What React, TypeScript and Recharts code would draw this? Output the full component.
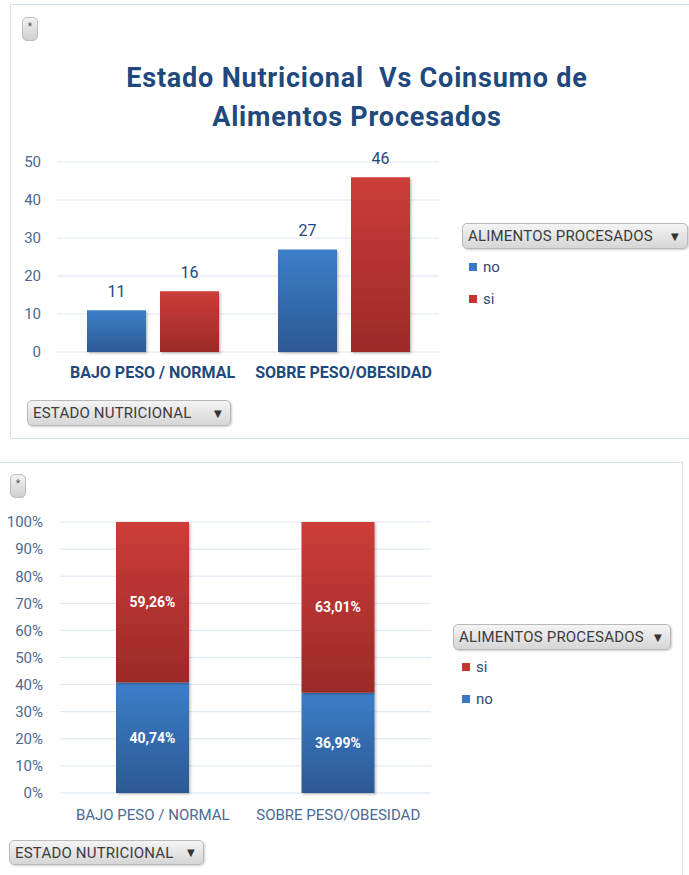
import { BarChart, Bar, XAxis, YAxis, CartesianGrid, LabelList } from "recharts";

const categories = ["BAJO PESO / NORMAL", "SOBRE PESO/OBESIDAD"];
const noCounts = [11, 27];
const siCounts = [16, 46];
const noPercent = [40.74, 36.99];
const siPercent = [59.26, 63.01];
const countTicks = [0, 10, 20, 30, 40, 50];
const percentTicks = [0, 10, 20, 30, 40, 50, 60, 70, 80, 90, 100];

const countData = categories.map((name, i) => ({ name, no: noCounts[i], si: siCounts[i] }));
const percentData = categories.map((name, i) => ({ name, no: noPercent[i], si: siPercent[i] }));

const FONT = "Roboto, 'DejaVu Sans', sans-serif";
const DARK_BLUE = "#1f497d";
const TICK_BLUE = "#4a6a93";
const GRID = "#dbe5f1";
const BLUE = "#3a78c3";
const RED = "#c0392f";

function Gradients() {
  return (
    <defs>
      <linearGradient id="gBlue" x1="0" y1="0" x2="0" y2="1">
        <stop offset="0%" stopColor="#3c7ec9" />
        <stop offset="100%" stopColor="#2c5994" />
      </linearGradient>
      <linearGradient id="gRed" x1="0" y1="0" x2="0" y2="1">
        <stop offset="0%" stopColor="#cd3c38" />
        <stop offset="100%" stopColor="#9b2a28" />
      </linearGradient>
      <filter id="barShadow" x="-10%" y="-10%" width="130%" height="130%">
        <feDropShadow dx="1.5" dy="1.5" stdDeviation="1.2" floodColor="#000" floodOpacity="0.25" />
      </filter>
    </defs>
  );
}

function PillButton({ left, top, width, height, label }: { left: number; top: number; width: number; height: number; label: string }) {
  return (
    <div
      style={{
        position: "absolute",
        left,
        top,
        width,
        height,
        boxSizing: "border-box",
        border: "1px solid #b9b9b9",
        borderRadius: 5,
        background: "linear-gradient(#f4f4f4, #d6d6d6)",
        boxShadow: "1px 1px 2px rgba(0,0,0,0.2)",
        display: "flex",
        alignItems: "center",
        justifyContent: "space-between",
        padding: "0 8px 0 5px",
        fontSize: 15,
        letterSpacing: 0.2,
        color: "#3c3c3c",
      }}
    >
      <span>{label}</span>
      <span style={{ fontSize: 10, color: "#333" }}>▼</span>
    </div>
  );
}

function StarButton({ left, top }: { left: number; top: number }) {
  return (
    <div
      style={{
        position: "absolute",
        left,
        top,
        width: 16,
        height: 24,
        boxSizing: "border-box",
        border: "1px solid #bdbdbd",
        borderRadius: 5,
        background: "linear-gradient(#f2f2f2, #cfcfcf)",
        fontSize: 10,
        color: "#555",
        textAlign: "center",
        lineHeight: "18px",
      }}
    >
      *
    </div>
  );
}

function LegendItems({ left, top, items }: { left: number; top: number; items: { label: string; color: string }[] }) {
  return (
    <div style={{ position: "absolute", left, top }}>
      {items.map((it) => (
        <div key={it.label} style={{ display: "flex", alignItems: "center", height: 32, fontSize: 15, color: "#2b4a78" }}>
          <span style={{ width: 8, height: 8, background: it.color, marginRight: 6 }} />
          {it.label}
        </div>
      ))}
    </div>
  );
}

const pctLabel = (v: any) => `${Number(v).toFixed(2).replace(".", ",")}%`;

export default function App() {
  return (
    <div style={{ position: "absolute", left: 0, top: 0, width: 689, height: 875, background: "#fff", overflow: "hidden", fontFamily: FONT }}>
      {/* top panel */}
      <div style={{ position: "absolute", left: 10, top: 4, width: 700, height: 433, border: "1px solid #d5e0ee" }} />
      <StarButton left={22} top={17} />
      <div
        style={{
          position: "absolute",
          left: 57,
          top: 59,
          width: 600,
          textAlign: "center",
          fontSize: 27,
          letterSpacing: 0.8,
          fontWeight: 700,
          lineHeight: "39px",
          color: DARK_BLUE,
        }}
      >
        Estado Nutricional&nbsp; Vs Coinsumo de
        <br />
        Alimentos Procesados
      </div>
      <div style={{ position: "absolute", left: 0, top: 0 }}>
        <BarChart width={689} height={440} data={countData} margin={{ top: 162, right: 250, left: 17, bottom: 58 }} barGap={14}>
          <Gradients />
          <CartesianGrid vertical={false} stroke={GRID} />
          <XAxis
            dataKey="name"
            axisLine={false}
            tickLine={false}
            height={30}
            tickMargin={9}
            tick={{ fill: DARK_BLUE, fontSize: 16, fontWeight: 700 }}
            interval={0}
          />
          <YAxis
            width={40}
            domain={[0, 50]}
            ticks={countTicks}
            axisLine={false}
            tickLine={false}
            tickMargin={10}
            tick={{ fill: TICK_BLUE, fontSize: 15 }}
          />
          <Bar dataKey="no" fill="url(#gBlue)" filter="url(#barShadow)" barSize={59} isAnimationActive={false}>
            <LabelList dataKey="no" position="top" offset={13} fill={DARK_BLUE} fontSize={16} />
          </Bar>
          <Bar dataKey="si" fill="url(#gRed)" filter="url(#barShadow)" barSize={59} isAnimationActive={false}>
            <LabelList dataKey="si" position="top" offset={13} fill={DARK_BLUE} fontSize={16} />
          </Bar>
        </BarChart>
      </div>
      <PillButton left={462} top={223} width={226} height={26} label="ALIMENTOS PROCESADOS" />
      <LegendItems
        left={469}
        top={251}
        items={[
          { label: "no", color: BLUE },
          { label: "si", color: RED },
        ]}
      />
      <PillButton left={27} top={400} width={204} height={26} label="ESTADO NUTRICIONAL" />

      {/* bottom panel */}
      <div style={{ position: "absolute", left: -1, top: 462, width: 682, height: 430, border: "1px solid #d5e0ee" }} />
      <StarButton left={10} top={474} />
      <div style={{ position: "absolute", left: 0, top: 462 }}>
        <BarChart width={689} height={413} data={percentData} margin={{ top: 60, right: 258, left: 20, bottom: 52 }}>
          <Gradients />
          <CartesianGrid vertical={false} stroke={GRID} />
          <XAxis
            dataKey="name"
            axisLine={false}
            tickLine={false}
            height={30}
            tickMargin={10}
            tick={{ fill: TICK_BLUE, fontSize: 15 }}
            interval={0}
          />
          <YAxis
            width={40}
            domain={[0, 100]}
            ticks={percentTicks}
            tickFormatter={(v) => `${v}%`}
            axisLine={false}
            tickLine={false}
            tickMargin={11}
            tick={{ fill: TICK_BLUE, fontSize: 15 }}
          />
          <Bar dataKey="no" stackId="a" fill="url(#gBlue)" filter="url(#barShadow)" barSize={73} isAnimationActive={false}>
            <LabelList dataKey="no" position="center" fill="#fff" fontSize={14} fontWeight={700} formatter={pctLabel} />
          </Bar>
          <Bar dataKey="si" stackId="a" fill="url(#gRed)" filter="url(#barShadow)" barSize={73} isAnimationActive={false}>
            <LabelList dataKey="si" position="center" fill="#fff" fontSize={14} fontWeight={700} formatter={pctLabel} />
          </Bar>
        </BarChart>
      </div>
      <PillButton left={453} top={624} width={218} height={26} label="ALIMENTOS PROCESADOS" />
      <LegendItems
        left={462}
        top={651}
        items={[
          { label: "si", color: RED },
          { label: "no", color: BLUE },
        ]}
      />
      <PillButton left={9} top={840} width={195} height={25} label="ESTADO NUTRICIONAL" />
    </div>
  );
}
